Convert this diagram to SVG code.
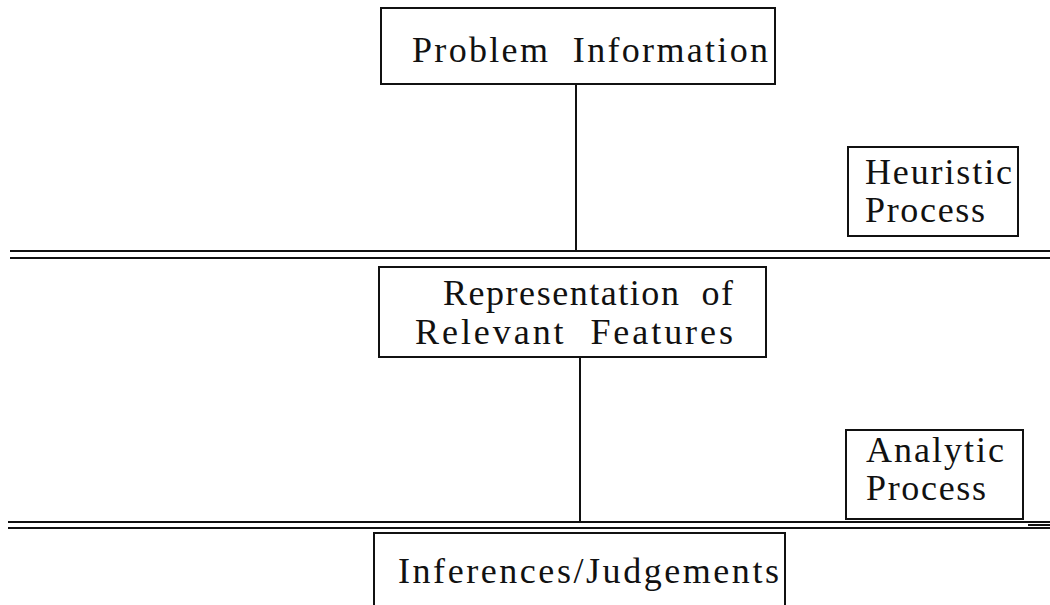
<svg xmlns="http://www.w3.org/2000/svg" width="1050" height="605" viewBox="0 0 1050 605">
<style>
.box{fill:none;stroke:#111;stroke-width:2}
.ln{stroke:#111;stroke-width:2;fill:none}
text{font-family:"Liberation Serif","Times New Roman",serif;font-size:36px;fill:#111;white-space:pre}
</style>
<rect width="1050" height="605" fill="#fff"/>
<g id="connectors">
<line class="ln" x1="576" y1="84" x2="576" y2="251"/>
<line class="ln" x1="580" y1="357" x2="580" y2="522"/>
<line class="ln" x1="10" y1="251" x2="1050" y2="251"/>
<line class="ln" x1="10" y1="258" x2="1050" y2="258"/>
<line class="ln" x1="8" y1="522" x2="1050" y2="522"/>
<line class="ln" x1="8" y1="528" x2="1050" y2="528"/>
<line class="ln" x1="1028" y1="525" x2="1050" y2="525" stroke-width="5"/>
</g>
<g id="problem-information">
<rect class="box" x="381" y="8" width="394" height="76"/>
<text x="412" y="62" textLength="356" lengthAdjust="spacing" xml:space="preserve">Problem  Information</text>
</g>
<g id="heuristic-process">
<rect class="box" x="848" y="147" width="170" height="89"/>
<text x="865" y="184" textLength="147" lengthAdjust="spacing">Heuristic</text>
<text x="865" y="222" textLength="120" lengthAdjust="spacing">Process</text>
</g>
<g id="representation">
<rect class="box" x="379" y="267" width="387" height="90"/>
<text x="443" y="305" textLength="290" lengthAdjust="spacing" xml:space="preserve">Representation  of</text>
<text x="415" y="344" textLength="318" lengthAdjust="spacing" xml:space="preserve">Relevant  Features</text>
</g>
<g id="analytic-process">
<rect class="box" x="846" y="430" width="177" height="89"/>
<text x="866" y="462" textLength="138" lengthAdjust="spacing">Analytic</text>
<text x="866" y="500" textLength="120" lengthAdjust="spacing">Process</text>
</g>
<g id="inferences">
<path class="box" d="M374,606 V533 H785 V606"/>
<text x="398" y="583" textLength="381" lengthAdjust="spacing">Inferences/Judgements</text>
</g>
</svg>
